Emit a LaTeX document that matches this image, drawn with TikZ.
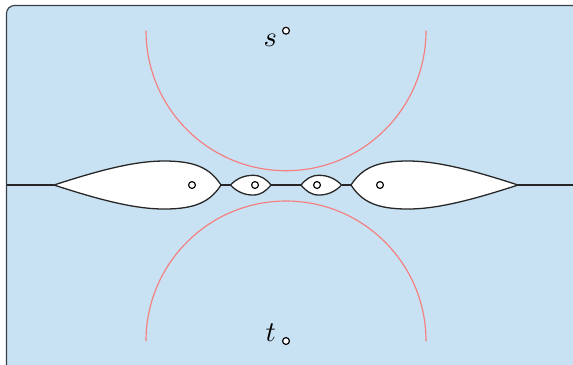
\documentclass[tikz,border=0pt]{standalone}
\usepackage{xcolor}
\usepackage{tikz}
\usetikzlibrary{positioning}
\definecolor{planeblue}{RGB}{201,226,243}
\definecolor{arcred}{RGB}{245,125,125}
\definecolor{framegray}{RGB}{55,62,70}

\begin{document}
\begin{tikzpicture}[
    x=0.35pt, y=-0.35pt,
    frame/.style={draw=framegray, fill=planeblue, rounded corners=2.8pt, line width=0.4pt},
    cutline/.style={draw=black!85, line width=0.45pt},
    lobe/.style={draw=black!85, fill=white, line width=0.45pt},
    hole/.style={circle, draw=black, fill=white, inner sep=0pt, minimum size=2.4pt, line width=0.4pt},
    halfdisk/.style={draw=arcred, line width=0.4pt},
    tag/.style={inner sep=0pt}
]
\useasboundingbox (0,0) rectangle (573,364);
\clip (0,0) rectangle (573,364);
\draw[frame] (6.5,5.5) rectangle (600,400);

% points where the slit meets the lobes
\coordinate (ltip) at (54,185);
\coordinate (lend) at (221,185);
\coordinate (aL) at (230.5,185);
\coordinate (aR) at (271,185);
\coordinate (bL) at (301,185);
\coordinate (bR) at (341.5,185);
\coordinate (rbeg) at (351,185);
\coordinate (rtip) at (518,185);

\draw[cutline] (6.5,185) -- (ltip);
\draw[cutline] (lend) -- (aL);
\draw[cutline] (aR) -- (bL);
\draw[cutline] (bR) -- (rbeg);
\draw[cutline] (rtip) -- (573,185);

\draw[lobe] (ltip) .. controls (100,170) and (135,161) .. (164,161)
    .. controls (195,161) and (210,168) .. (lend)
    .. controls (210,202) and (195,209) .. (164,209)
    .. controls (135,209) and (100,200) .. (ltip) -- cycle;
\draw[lobe] (aL) .. controls (237,178) and (245,175.3) .. (253,175.3)
    .. controls (261,175.3) and (266,179) .. (aR)
    .. controls (266,191) and (261,195) .. (253,195)
    .. controls (245,195) and (237,192) .. (aL) -- cycle;
\draw[lobe] (bR) .. controls (335,178) and (327,175.3) .. (319,175.3)
    .. controls (311,175.3) and (306,179) .. (bL)
    .. controls (306,191) and (311,195) .. (319,195)
    .. controls (327,195) and (335,192) .. (bR) -- cycle;
\draw[lobe] (rtip) .. controls (472,170) and (437,161) .. (408,161)
    .. controls (377,161) and (362,168) .. (rbeg)
    .. controls (362,202) and (377,209) .. (408,209)
    .. controls (437,209) and (472,200) .. (rtip) -- cycle;

\node[hole] (p1) at (192,185) {};
\node[hole] (p2) at (255,185) {};
\node[hole] (p3) at (317,185) {};
\node[hole] (p4) at (380,185) {};

\node[hole] (s) at (286,30.7) {};
\node[hole] (t) at (286,341) {};
\draw[halfdisk] ([xshift=-49pt]s.center) arc[start angle=180, end angle=360, radius=49pt];
\draw[halfdisk] ([xshift=-49pt]t.center) arc[start angle=180, end angle=0, radius=49pt];

\node[tag, below left=0.2pt and 2pt of s] (slabel) {$s$};
\node[tag, above left=-1.2pt and 2.3pt of t] (tlabel) {$t$};
\end{tikzpicture}
\end{document}
